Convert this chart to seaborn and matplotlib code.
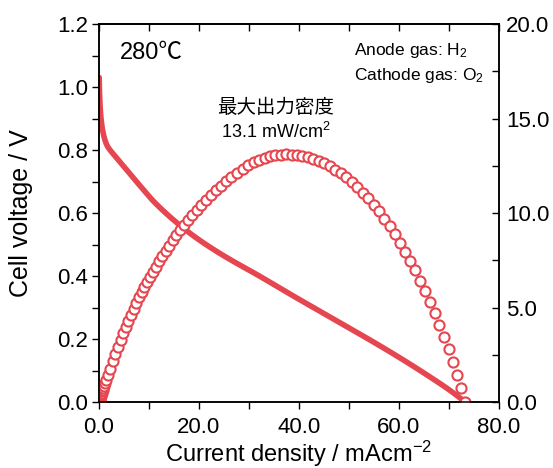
import numpy as np
import pandas as pd
import matplotlib
matplotlib.use('Agg')
import matplotlib.pyplot as plt
import seaborn as sns
from matplotlib.ticker import MultipleLocator, FormatStrFormatter

## data (one point every 0.01 V)
voltage = [1.03, 1.02, 1.01, 1.00, 0.99, 0.98, 0.97, 0.96, 0.95, 0.94,
           0.93, 0.92, 0.91, 0.90, 0.89, 0.88, 0.87, 0.86, 0.85, 0.84,
           0.83, 0.82, 0.81, 0.80, 0.79, 0.78, 0.77, 0.76, 0.75, 0.74,
           0.73, 0.72, 0.71, 0.70, 0.69, 0.68, 0.67, 0.66, 0.65, 0.64,
           0.63, 0.62, 0.61, 0.60, 0.59, 0.58, 0.57, 0.56, 0.55, 0.54,
           0.53, 0.52, 0.51, 0.50, 0.49, 0.48, 0.47, 0.46, 0.45, 0.44,
           0.43, 0.42, 0.41, 0.40, 0.39, 0.38, 0.37, 0.36, 0.35, 0.34,
           0.33, 0.32, 0.31, 0.30, 0.29, 0.28, 0.27, 0.26, 0.25, 0.24,
           0.23, 0.22, 0.21, 0.20, 0.19, 0.18, 0.17, 0.16, 0.15, 0.14,
           0.13, 0.12, 0.11, 0.10, 0.09, 0.08, 0.07, 0.06, 0.05, 0.04,
           0.03, 0.02, 0.01, 0.00]

current_density = [0.05, 0.06, 0.07, 0.08, 0.10, 0.12, 0.14, 0.16, 0.19, 0.22,
                   0.26, 0.30, 0.35, 0.41, 0.48, 0.56, 0.65, 0.76, 0.89, 1.04,
                   1.22, 1.45, 1.76, 2.20, 2.72, 3.25, 3.78, 4.31, 4.84, 5.37,
                   5.90, 6.43, 6.96, 7.49, 8.02, 8.56, 9.10, 9.64, 10.18, 10.74,
                   11.36, 12.00, 12.66, 13.34, 14.04, 14.76, 15.50, 16.26, 17.04, 17.85,
                   18.69, 19.56, 20.46, 21.39, 22.35, 23.34, 24.36, 25.41, 26.49, 27.59,
                   28.71, 29.84, 30.98, 32.08, 33.16, 34.23, 35.30, 36.37, 37.44, 38.51,
                   39.59, 40.68, 41.78, 42.88, 43.98, 45.08, 46.18, 47.28, 48.38, 49.48,
                   50.58, 51.68, 52.78, 53.87, 54.95, 56.02, 57.08, 58.13, 59.17, 60.20,
                   61.22, 62.23, 63.23, 64.22, 65.20, 66.17, 67.13, 68.08, 69.02, 69.92,
                   70.79, 71.63, 72.44, 73.22]

power_density = [0.05, 0.06, 0.07, 0.08, 0.10, 0.12, 0.14, 0.15, 0.18, 0.21,
                 0.24, 0.28, 0.32, 0.37, 0.43, 0.49, 0.57, 0.65, 0.76, 0.87,
                 1.01, 1.19, 1.43, 1.76, 2.15, 2.54, 2.91, 3.28, 3.63, 3.97,
                 4.31, 4.63, 4.94, 5.24, 5.53, 5.82, 6.10, 6.36, 6.62, 6.87,
                 7.16, 7.44, 7.72, 8.00, 8.28, 8.56, 8.84, 9.11, 9.37, 9.64,
                 9.91, 10.17, 10.43, 10.70, 10.95, 11.20, 11.45, 11.69, 11.92, 12.14,
                 12.35, 12.53, 12.70, 12.83, 12.93, 13.01, 13.06, 13.09, 13.10, 13.09,
                 13.06, 13.02, 12.95, 12.86, 12.75, 12.62, 12.47, 12.29, 12.10, 11.88,
                 11.63, 11.37, 11.08, 10.77, 10.44, 10.08, 9.70, 9.30, 8.88, 8.43,
                 7.96, 7.47, 6.96, 6.42, 5.87, 5.29, 4.70, 4.08, 3.45, 2.80,
                 2.12, 1.43, 0.72, 0.00]

df = pd.DataFrame({'j': current_density, 'V': voltage, 'P': power_density})

sns.set_style('ticks')
plt.rcParams['font.family'] = ['Liberation Sans', 'Noto Sans CJK JP', 'DejaVu Sans']
plt.rcParams['mathtext.fontset'] = 'custom'
plt.rcParams['mathtext.rm'] = 'Liberation Sans'
plt.rcParams['mathtext.it'] = 'Liberation Sans'
plt.rcParams['axes.edgecolor'] = 'black'
plt.rcParams['axes.linewidth'] = 1.1
plt.rcParams['text.color'] = 'black'
plt.rcParams['axes.labelcolor'] = 'black'
plt.rcParams['xtick.color'] = 'black'
plt.rcParams['ytick.color'] = 'black'

red = '#e5464f'

fig = plt.figure(figsize=(5.53, 4.68), dpi=100)
ax = fig.add_axes([0.179, 0.141, 0.7233, 0.8077])

sns.lineplot(data=df, x='j', y='V', ax=ax, color=red, lw=4.0,
             estimator=None, sort=False)

ax2 = ax.twinx()
sns.lineplot(data=df, x='j', y='P', ax=ax2, color=red, linestyle='none',
             marker='o', markersize=7.3, markerfacecolor='white',
             markeredgecolor=red, markeredgewidth=1.5,
             estimator=None, sort=False)

ax.set_xlim(0, 80)
ax.set_ylim(0, 1.2)
ax2.set_ylim(0, 20)

ax.xaxis.set_major_locator(MultipleLocator(20))
ax.xaxis.set_minor_locator(MultipleLocator(10))
ax.yaxis.set_major_locator(MultipleLocator(0.2))
ax.yaxis.set_minor_locator(MultipleLocator(0.1))
ax2.yaxis.set_major_locator(MultipleLocator(5))
ax2.yaxis.set_minor_locator(MultipleLocator(2.5))
ax.xaxis.set_major_formatter(FormatStrFormatter('%.1f'))
ax.yaxis.set_major_formatter(FormatStrFormatter('%.1f'))
ax2.yaxis.set_major_formatter(FormatStrFormatter('%.1f'))

ax.tick_params(axis='both', which='both', direction='out', length=5, width=1.0,
               labelsize=16, pad=3, color='black', labelcolor='black')
ax.tick_params(axis='x', which='both', pad=6)
ax2.tick_params(axis='y', which='both', direction='in', length=5, width=1.0,
                labelsize=16, pad=5, color='black', labelcolor='black')

# ticks along the top edge, pointing inwards
top = ax.secondary_xaxis('top')
top.xaxis.set_major_locator(MultipleLocator(10))
top.tick_params(axis='x', direction='in', length=5, width=1.0, labeltop=False,
                color='black')

for a in (ax, ax2):
    for s in a.spines.values():
        s.set_visible(True)
        s.set_color('black')
        s.set_linewidth(1.1)

ax.set_xlabel('Current density / mAcm$^{-2}$', fontsize=17, color='black')
ax.set_ylabel('Cell voltage / V', fontsize=18, color='black')
ax2.set_ylabel('')
ax.xaxis.set_label_coords(0.5, -0.098)
ax.yaxis.set_label_coords(-0.165, 0.5)

ax.text(0.0525, 0.907, '280℃', transform=ax.transAxes, fontsize=17,
        ha='left', va='baseline')
ax.text(0.6375, 0.918, 'Anode gas: H$_2$', transform=ax.transAxes, fontsize=12.5,
        ha='left', va='baseline')
ax.text(0.6375, 0.852, 'Cathode gas: O$_2$', transform=ax.transAxes, fontsize=12.5,
        ha='left', va='baseline')
ax.text(0.441, 0.778, '最大出力密度', transform=ax.transAxes, fontsize=14,
        ha='center', va='center', family=['Noto Sans CJK JP', 'DejaVu Sans'])
ax.text(0.441, 0.698, '13.1 mW/cm$^2$', transform=ax.transAxes, fontsize=13,
        ha='center', va='baseline')

fig.savefig('out.png', dpi=100)
